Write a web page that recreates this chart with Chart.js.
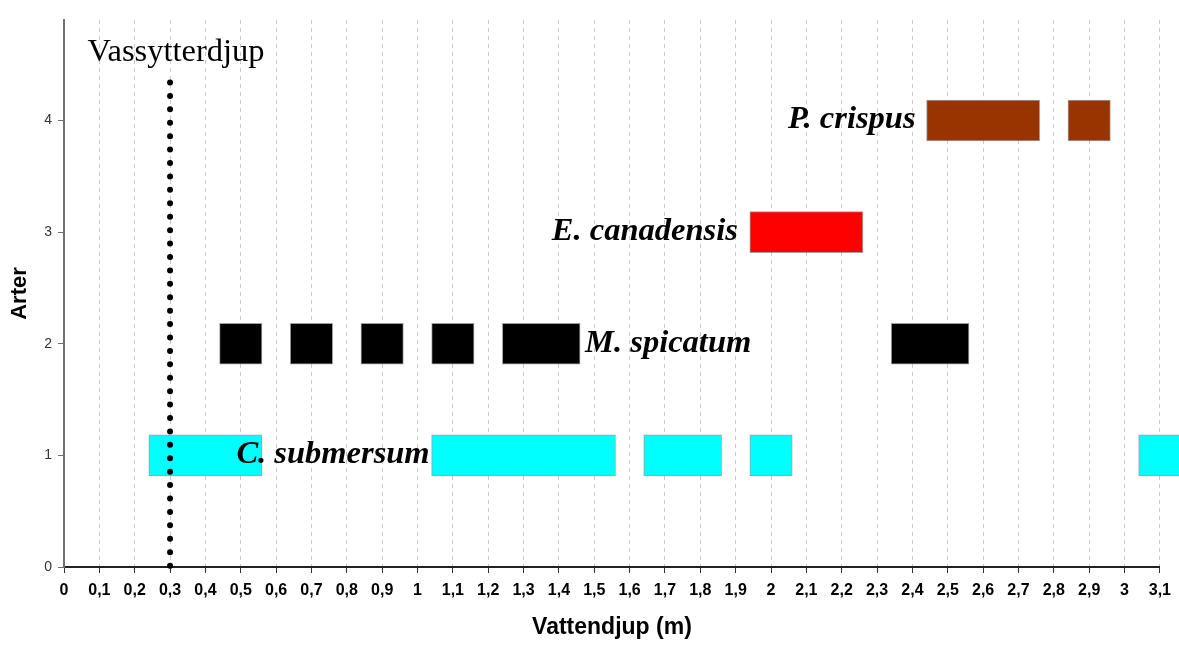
<!DOCTYPE html>
<html>
<head>
<meta charset="utf-8">
<script src="https://cdn.jsdelivr.net/npm/chart.js@4"></script>
<style>
  html, body { margin: 0; padding: 0; background: #fff; }
</style>
</head>
<body>
<canvas id="graficoArter" width="1179" height="645"></canvas>
<script>
// Arter och deras djupintervall (m)
const arter = ['C. submersum', 'M. spicatum', 'E. canadensis', 'P. crispus'];
const rader = [1, 2, 3, 4];
const cSubmersum = [[0.24, 0.56], [1.04, 1.56], [1.64, 1.86], [1.94, 2.06], [3.04, 3.2]];
const mSpicatum = [[0.44, 0.56], [0.64, 0.76], [0.84, 0.96], [1.04, 1.16], [1.24, 1.46], [2.34, 2.56]];
const eCanadensis = [[1.94, 2.26]];
const pCrispus = [[2.44, 2.76], [2.84, 2.96]];
const intervall = [cSubmersum, mSpicatum, eCanadensis, pCrispus];

// Vassytterdjup
const vassytterdjup = 0.3;
const linjeTopp = 4.34;

// Axlar
const xMax = 3.1;
const yMax = 4.9;

const farger = ['#00FFFF', '#000000', '#FF0000', '#993300'];
// vilken stapel etiketten hänger på, och på vilken sida
const etikettSegment = [1, 4, 0, 0];
const etikettSida = ['fore', 'efter', 'fore', 'fore'];
const etikettAvstand = [2, 5, 12, 11];

const artEtiketter = {
    id: 'artEtiketter',
    afterDatasetsDraw(chart) {
        const { ctx, scales: { x, y } } = chart;
        ctx.save();
        ctx.fillStyle = '#000';
        ctx.textBaseline = 'alphabetic';
        ctx.font = 'bold italic 32.5px "Liberation Serif", "Times New Roman", serif';
        arter.forEach((namn, i) => {
            const seg = intervall[i][etikettSegment[i]];
            const yPix = y.getPixelForValue(rader[i]) + 8;
            if (etikettSida[i] === 'efter') {
                ctx.textAlign = 'left';
                ctx.fillText(namn, x.getPixelForValue(seg[1]) + etikettAvstand[i], yPix);
            } else {
                ctx.textAlign = 'right';
                ctx.fillText(namn, x.getPixelForValue(seg[0]) - etikettAvstand[i], yPix);
            }
        });
        ctx.font = '32.5px "Liberation Serif", "Times New Roman", serif';
        ctx.textAlign = 'center';
        ctx.fillText('Vassytterdjup', x.getPixelForValue(vassytterdjup) + 6, y.getPixelForValue(linjeTopp) - 22);
        ctx.restore();
    }
};

const datasets = [{
    type: 'line',
    data: [{ x: vassytterdjup, y: linjeTopp }, { x: vassytterdjup, y: 0 }],
    borderColor: '#000',
    borderWidth: 6,
    borderDash: [0, 13.42],
    borderCapStyle: 'round',
    pointRadius: 0,
    clip: false,
    order: -1
}];
intervall.forEach((serie, i) => {
    datasets.push({
        type: 'bar',
        label: arter[i],
        data: serie.map(s => ({ x: s, y: rader[i] })),
        backgroundColor: farger[i],
        borderColor: 'rgba(120,120,120,0.7)',
        borderWidth: 1,
        borderSkipped: false,
        barThickness: 41,
        grouped: false,
        clip: false
    });
});

const ctxArter = document.getElementById('graficoArter').getContext('2d');
const graficoArter = new Chart(ctxArter, {
    data: { datasets: datasets },
    plugins: [artEtiketter],
    options: {
        indexAxis: 'y',
        responsive: false,
        animation: false,
        layout: { padding: { left: 0, top: 20, right: 19, bottom: 0 } },
        plugins: {
            legend: { display: false },
            tooltip: { enabled: false }
        },
        scales: {
            x: {
                type: 'linear',
                min: 0,
                max: xMax,
                ticks: {
                    stepSize: 0.1,
                    autoSkip: false,
                    maxRotation: 0,
                    padding: 8,
                    color: '#000',
                    font: { family: '"Liberation Sans", Arial, sans-serif', size: 16, weight: 'bold' },
                    callback: v => String(Math.round(v * 10) / 10).replace('.', ',')
                },
                grid: {
                    color: c => c.tick && c.tick.value === 0 ? 'rgba(0,0,0,0)' : '#c8c8c8',
                    lineWidth: 1,
                    tickLength: 6,
                    tickColor: '#333',
                    tickWidth: 1
                },
                border: { color: '#222', width: 2, dash: [4, 4] },
                title: {
                    display: true,
                    text: 'Vattendjup (m)',
                    color: '#000',
                    font: { family: '"Liberation Sans", Arial, sans-serif', size: 23, weight: 'bold' },
                    padding: { top: 0, bottom: 4 }
                },
                afterFit: s => { s.height = 78; }
            },
            y: {
                type: 'linear',
                min: 0,
                max: yMax,
                offset: false,
                ticks: {
                    stepSize: 1,
                    padding: 6,
                    color: '#333',
                    font: { family: '"Liberation Sans", Arial, sans-serif', size: 14 }
                },
                afterBuildTicks: s => { s.ticks = s.ticks.filter(t => Number.isInteger(t.value)); },
                grid: {
                    offset: false,
                    drawOnChartArea: false,
                    tickLength: 6,
                    tickColor: '#707070'
                },
                border: { color: '#707070', width: 2 },
                title: {
                    display: true,
                    text: 'Arter',
                    color: '#000',
                    font: { family: '"Liberation Sans", Arial, sans-serif', size: 22, weight: 'bold' },
                    padding: { top: 7, bottom: 0 }
                },
                afterFit: s => { s.width = 64; }
            }
        }
    }
});
</script>
</body>
</html>
